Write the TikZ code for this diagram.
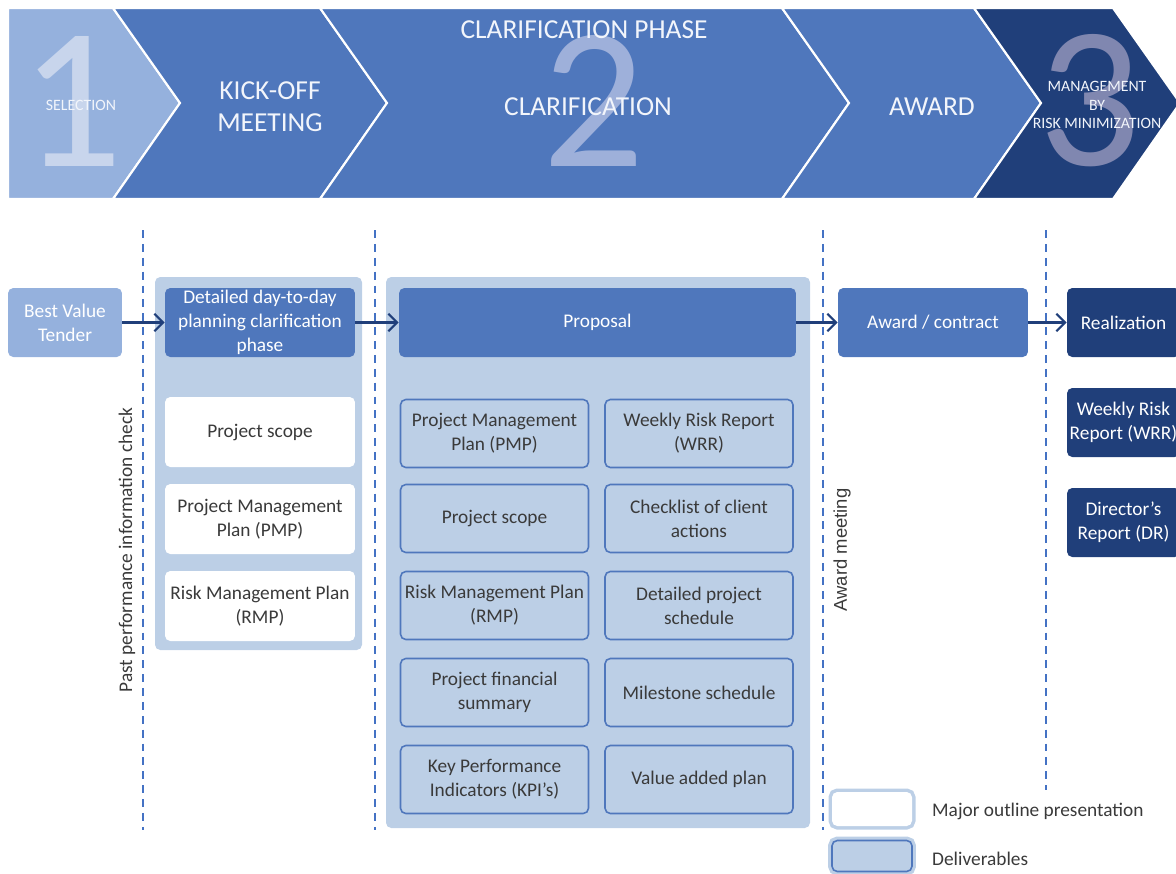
\documentclass[tikz,border=0pt]{standalone}
\usepackage{fontspec}
\setmainfont{Carlito}
\newfontfamily\arialfont{Liberation Sans}
\usetikzlibrary{arrows.meta}
\definecolor{selblue}{HTML}{95B1DD}
\definecolor{midblue}{HTML}{4F77BC}
\definecolor{darkblue}{HTML}{203F7A}
\definecolor{paleblue}{HTML}{BCCFE6}
\definecolor{dashblue}{HTML}{4472C4}
\definecolor{boxtext}{HTML}{3A3A3A}
\definecolor{headtext}{HTML}{F2F5FB}
\begin{document}
\begin{tikzpicture}[x=0.02cm,y=-0.02cm,
    box/.style={rounded corners=3pt,align=center,inner sep=0pt,minimum height=1.38cm,
      font=\fontsize{11}{13.6}\selectfont},
    topbox/.style={box,fill=midblue,text=white},
    realbox/.style={box,fill=darkblue,text=white,minimum width=2.26cm},
    whitebox/.style={box,fill=white,text=boxtext,minimum width=3.8cm,minimum height=1.4cm},
    delivbox/.style={box,fill=paleblue,draw=midblue,line width=0.9pt,text=boxtext,minimum width=3.76cm,minimum height=1.36cm},
    chevron/.style={draw=white,line width=1.2pt,line join=miter},
    bignum/.style={font=\fontsize{115}{115}\selectfont,inner sep=0pt},
    headlabel/.style={text=headtext,align=center,font=\fontsize{15.6}{18}\selectfont},
    smalllabel/.style={text=headtext,align=center,font=\fontsize{9}{10.5}\selectfont},
    sep/.style={dashblue,line width=1.1pt,dash pattern=on 4.5pt off 3.4pt},
    flow/.style={darkblue,line width=1.2pt,-{Straight Barb[length=5pt,width=10pt,line width=1.2pt]}},
    sidelabel/.style={rotate=90,text=boxtext,font=\fontsize{11}{13.6}\selectfont}]
  \clip (0,0) rectangle (1176,873);
  % phase chevrons
  \fill[selblue,chevron] (8,8) -- (113,8) -- (180,103) -- (113,199) -- (8,199) -- cycle;
  \fill[midblue,chevron] (113,8) -- (320,8) -- (387,103) -- (320,199) -- (113,199) -- (180,103) -- cycle;
  \fill[midblue,chevron] (320,8) -- (782,8) -- (849,103) -- (782,199) -- (320,199) -- (387,103) -- cycle;
  \fill[midblue,chevron] (782,8) -- (974,8) -- (1041,103) -- (974,199) -- (782,199) -- (849,103) -- cycle;
  \fill[darkblue,chevron] (974,8) -- (1113,8) -- (1180,103) -- (1113,199) -- (974,199) -- (1041,103) -- cycle;
  \node[bignum,text={rgb,255:red,200;green,213;blue,236}] (one) at (72,101) {1};
  \node[bignum,text={rgb,255:red,158;green,176;blue,218}] (two) at (594,101) {2};
  \node[bignum,text={rgb,255:red,128;green,135;blue,176}] (three) at (1090,101) {3};
  \node[smalllabel] (selection) at (81,105) {SELECTION};
  \node[headlabel] (kickoff) at (270,107) {KICK-OFF\\MEETING};
  \node[headlabel] (phase) at (584,30) {CLARIFICATION PHASE};
  \node[headlabel] (clarif) at (588,107) {CLARIFICATION};
  \node[headlabel] (award) at (932,107) {AWARD};
  \node[smalllabel] (riskmin) at (1097,105) {MANAGEMENT\\BY\\RISK MINIMIZATION};
  % separators
  \draw[sep] (143,230) -- (143,830);
  \draw[sep] (375,230) -- (375,830);
  \draw[sep] (823,230) -- (823,830);
  \draw[sep] (1046,230) -- (1046,790);
  \node[sidelabel] (pastcheck) at (127,550) {Past performance information check};
  \node[sidelabel,font=\arialfont\fontsize{10.5}{12}\selectfont] (awardmeet) at (842,550) {Award meeting};
  % panels
  \fill[paleblue,rounded corners=3pt] (155,277) rectangle (362,650);
  \fill[paleblue,rounded corners=3pt] (386,277) rectangle (810,828);
  % top row
  \node[box,fill=selblue,text=white,minimum width=2.28cm] (tender) at (65,322.5) {Best Value\\Tender};
  \node[topbox,minimum width=3.8cm] (dayplan) at (260,322.5) {Detailed day-to-day\\planning clarification\\phase};
  \node[topbox,minimum width=7.94cm] (proposal) at (597.5,322.5) {Proposal};
  \node[topbox,minimum width=3.8cm] (contract) at (933,322.5) {Award / contract};
  \node[realbox] (realize) at (1123.5,322.5) {Realization};
  \node[realbox] (wrrdark) at (1123.5,422.5) {Weekly Risk\\Report (WRR)};
  \node[realbox] (drdark) at (1123.5,522.5) {Director's\\Report (DR)};
  \draw[flow] (tender) -- (dayplan);
  \draw[flow] (dayplan) -- (proposal);
  \draw[flow] (proposal) -- (contract);
  \draw[flow] (contract) -- (realize);
  % kick-off outlines
  \node[whitebox] (scopeA) at (260,432) {Project scope};
  \node[whitebox] (pmpA) at (260,519) {Project Management\\Plan (PMP)};
  \node[whitebox] (rmpA) at (260,606) {Risk Management Plan\\(RMP)};
  % proposal deliverables
  \node[delivbox] (pmpB) at (494.5,433.5) {Project Management\\Plan (PMP)};
  \node[delivbox] (wrrB) at (699,433.5) {Weekly Risk Report\\(WRR)};
  \node[delivbox] (scopeB) at (494.5,518.5) {Project scope};
  \node[delivbox] (checkB) at (699,518.5) {Checklist of client\\actions};
  \node[delivbox] (rmpB) at (494.5,605.5) {Risk Management Plan\\(RMP)};
  \node[delivbox] (schedB) at (699,605.5) {Detailed project\\schedule};
  \node[delivbox] (finB) at (494.5,692.5) {Project financial\\summary};
  \node[delivbox] (mileB) at (699,692.5) {Milestone schedule};
  \node[delivbox] (kpiB) at (494.5,779.5) {Key Performance\\Indicators (KPI's)};
  \node[delivbox] (valueB) at (699,779.5) {Value added plan};
  % legend
  \node[box,fill=white,minimum width=1.6cm,minimum height=0.68cm,preaction={draw=paleblue,line width=4pt}] (legwhite) at (872,809) {};
  \node[box,fill=paleblue,draw=midblue,line width=0.9pt,minimum width=1.6cm,minimum height=0.62cm,preaction={draw=paleblue,line width=4.5pt}] (legdeliv) at (872,856) {};
  \node[anchor=west,text=boxtext,font=\fontsize{11}{13.6}\selectfont] (legwhitetxt) at (926,811) {Major outline presentation};
  \node[anchor=west,text=boxtext,font=\fontsize{11}{13.6}\selectfont] (legdelivtxt) at (926,859) {Deliverables};
\end{tikzpicture}
\end{document}
